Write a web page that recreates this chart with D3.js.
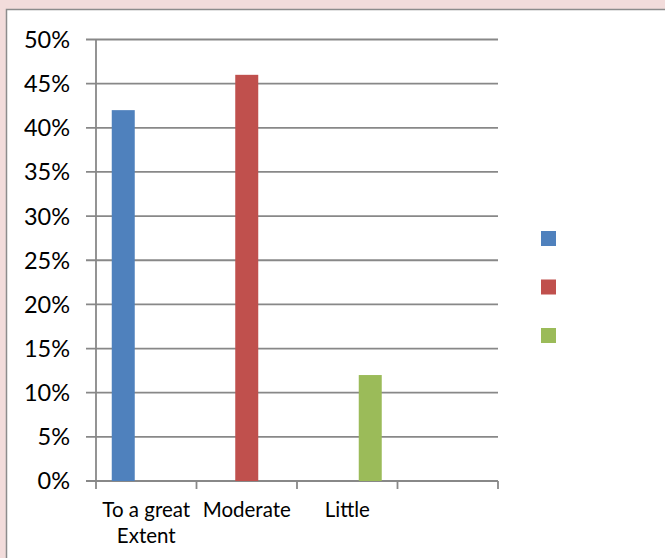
<!DOCTYPE html>
<html><head><meta charset="utf-8">
<script src="https://cdn.jsdelivr.net/npm/d3@7"></script>
<style>
html,body{margin:0;padding:0;background:#f2dcdb;}
svg{display:block;}
</style></head>
<body>
<svg id="chart" width="665" height="558"></svg>
<script>
const categories = ["To a great Extent", "Moderate", "Little", ""];
const seriesNames = ["Series1", "Series2", "Series3"];
const seriesColors = ["#4f81bd", "#c0504d", "#9bbb59"];
const series1 = [0.42, null, null, null];
const series2 = [null, 0.46, null, null];
const series3 = [null, null, 0.12, null];
const yTicks = [0, 0.05, 0.10, 0.15, 0.20, 0.25, 0.30, 0.35, 0.40, 0.45, 0.50];
const allSeries = [series1, series2, series3];

(function(){
const svg = d3.select("#chart");
const font = "Lato, 'Open Sans', sans-serif";
// frame
svg.append("rect").attr("x",0).attr("y",0).attr("width",665).attr("height",558).attr("fill","#f2dcdb");
svg.append("rect").attr("x",6.5).attr("y",9.5).attr("width",670).attr("height",560)
  .attr("fill","#fff").attr("stroke","#8c8c8c").attr("stroke-width",1.5);

const pL = 96, pR = 498, pT = 39.5, pB = 481;
const x = d3.scaleBand().domain(categories.map((c,i)=>i)).range([pL,pR]).paddingInner(0).paddingOuter(0);
const inner = d3.scaleBand().domain(d3.range(allSeries.length)).range([0, x.bandwidth()]).paddingInner(0).paddingOuter(0.685);
const y = d3.scaleLinear().domain([0,0.5]).range([pB, pT]);

// gridlines
svg.append("g").selectAll("line").data(yTicks).join("line")
  .attr("x1", pL-10).attr("x2", pR).attr("y1", d=>y(d)).attr("y2", d=>y(d))
  .attr("stroke","#888").attr("stroke-width",1.8);

// y axis line
svg.append("line").attr("x1",pL).attr("x2",pL).attr("y1",pT).attr("y2",pB)
  .attr("stroke","#888").attr("stroke-width",1.8);

// y labels
svg.append("g").selectAll("text").data(yTicks).join("text")
  .attr("x", 70).attr("y", d=>y(d)).attr("dy","0.36em")
  .attr("text-anchor","end").attr("font-family",font).attr("font-size",23.5).attr("fill","#000")
  .text(d=>d3.format(".0%")(d));

// x axis ticks
const bounds = d3.range(categories.length+1).map(i=> pL + i*x.bandwidth());
svg.append("g").selectAll("line").data(bounds).join("line")
  .attr("x1",d=>d).attr("x2",d=>d).attr("y1",pB).attr("y2",pB+8)
  .attr("stroke","#888").attr("stroke-width",1.8);

// bars
allSeries.forEach((s, si) => {
  svg.append("g").selectAll("rect").data(s.map((v,i)=>({v,i})).filter(d=>d.v!=null)).join("rect")
    .attr("x", d=> x(d.i) + inner(si))
    .attr("width", inner.bandwidth())
    .attr("y", d=> y(d.v))
    .attr("height", d=> y(0)-y(d.v))
    .attr("fill", seriesColors[si]);
});

// x labels with wrapping
const wraps = {"To a great Extent": ["To a great","Extent"]};
categories.forEach((c,i) => {
  const lines = wraps[c] || [c];
  const t = svg.append("text").attr("text-anchor","middle").attr("font-family",font)
    .attr("font-size",20.5).attr("fill","#000");
  lines.forEach((ln,k)=>{
    t.append("tspan").attr("x", x(i)+x.bandwidth()/2).attr("y", 517 + k*26).text(ln);
  });
});

// legend (no text)
const legY = d3.scalePoint().domain(d3.range(seriesNames.length)).range([238.5, 335.5]);
svg.append("g").selectAll("rect").data(seriesNames).join("rect")
  .attr("x", 541).attr("y", (d,i)=>legY(i)-7.5).attr("width",15).attr("height",15)
  .attr("fill",(d,i)=>seriesColors[i]);
})();
</script>
</body></html>
